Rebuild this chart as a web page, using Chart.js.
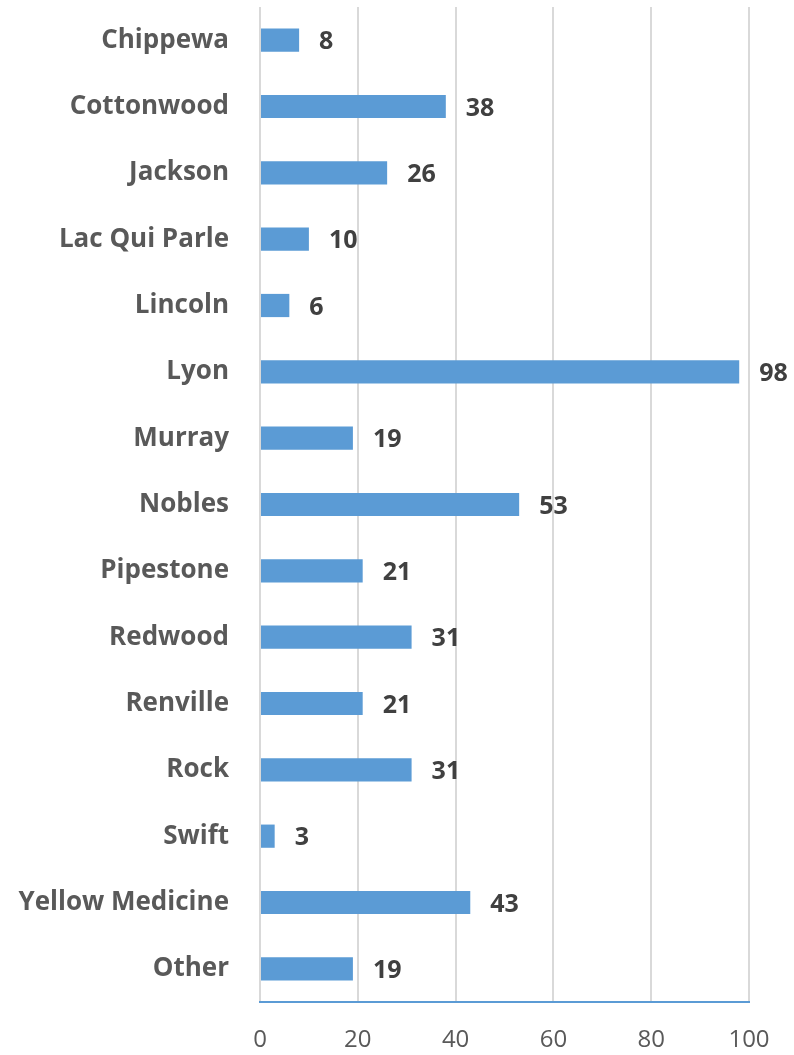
<!DOCTYPE html>
<html>
<head>
<meta charset="utf-8">
<script src="https://cdn.jsdelivr.net/npm/chart.js@4"></script>
<style>
  html,body{margin:0;padding:0;background:#fff;}
  #wrap{width:794px;height:1055px;position:relative;}
</style>
</head>
<body>
<div id="wrap"><canvas id="mainChart"></canvas></div>
<script>
const counties = ['Chippewa','Cottonwood','Jackson','Lac Qui Parle','Lincoln','Lyon','Murray','Nobles','Pipestone','Redwood','Renville','Rock','Swift','Yellow Medicine','Other'];
const counts = [8,38,26,10,6,98,19,53,21,31,21,31,3,43,19];
const xTicks = [0,20,40,60,80,100];

const FONT = '"Open Sans", sans-serif';

// value labels after each bar
const valueLabels = {
  id:'valueLabels',
  afterDatasetsDraw(chart){
    const {ctx} = chart;
    const meta = chart.getDatasetMeta(0);
    ctx.save();
    ctx.font = 'bold 25px ' + FONT;
    ctx.fillStyle = '#404040';
    ctx.textBaseline = 'middle';
    ctx.textAlign = 'left';
    meta.data.forEach((bar,i)=>{
      ctx.fillText(String(counts[i]), bar.x + 20, bar.y + 2);
    });
    ctx.restore();
  }
};

document.addEventListener('DOMContentLoaded', ()=>{
  const ctx = document.getElementById('mainChart');
  new Chart(ctx,{
    type:'bar',
    data:{
      labels:counties,
      datasets:[{data:counts, backgroundColor:'#5B9BD5', borderWidth:0, barPercentage:0.35, categoryPercentage:1}]
    },
    options:{
      indexAxis:'y',
      responsive:true,
      maintainAspectRatio:false,
      animation:false,
      layout:{padding:{top:7, right:45, left:0, bottom:0}},
      plugins:{legend:{display:false}, tooltip:{enabled:false}},
      scales:{
        x:{
          min:0, max:100,
          afterBuildTicks(s){ s.ticks = xTicks.map(v=>({value:v})); },
          afterFit(s){ s.height = 53; },
          grid:{color:'#D9D9D9', lineWidth:2, drawTicks:false},
          border:{display:true, color:'#5B9BD5', width:2},
          ticks:{color:'#595959', padding:24, font:{family:FONT, size:24}}
        },
        y:{
          afterFit(s){ s.width = 260; s.paddingTop = 0; s.paddingBottom = 0; },
          grid:{display:false, drawTicks:false},
          border:{display:false},
          ticks:{color:'#595959', padding:31, font:{family:FONT, size:26, weight:'bold'}}
        }
      }
    },
    plugins:[valueLabels]
  });
});
</script>
</body>
</html>
